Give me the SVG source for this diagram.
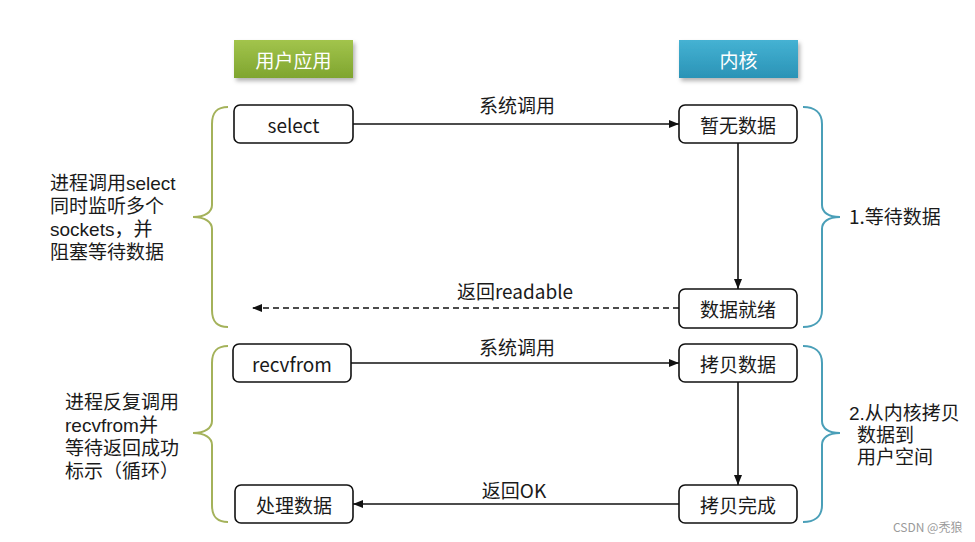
<svg xmlns="http://www.w3.org/2000/svg" width="975" height="542" viewBox="0 0 975 542">
<style>
text{font-family:"Noto Sans CJK SC","Liberation Sans",sans-serif;font-size:19px;fill:#1a1a1a}
.m{font-family:"Liberation Sans","Noto Sans CJK SC",sans-serif}
.c{text-anchor:middle;dominant-baseline:central}
.hd{fill:#ffffff}
.box{fill:#ffffff;stroke:#111;stroke-width:1.6}
.ln{stroke:#111;stroke-width:1.6;fill:none}
.lb{fill:none;stroke:#a4b25a;stroke-width:2}
.rb{fill:none;stroke:#4a9fb8;stroke-width:2}
</style>
<defs>
<linearGradient id="gG" x1="0" y1="0" x2="0" y2="1"><stop offset="0" stop-color="#a2c44c"/><stop offset="1" stop-color="#7fa52f"/></linearGradient>
<linearGradient id="gB" x1="0" y1="0" x2="0" y2="1"><stop offset="0" stop-color="#45b2d3"/><stop offset="1" stop-color="#2a93b6"/></linearGradient>
<filter id="sh" x="-10%" y="-20%" width="130%" height="160%"><feDropShadow dx="2" dy="3" stdDeviation="2" flood-color="#000" flood-opacity="0.3"/></filter>
<marker id="ar" viewBox="0 0 10 10" refX="10" refY="5" markerWidth="10" markerHeight="10" markerUnits="userSpaceOnUse" orient="auto"><path d="M0,1 L10,5 L0,9 Z" fill="#111"/></marker>
</defs>
<rect width="975" height="542" fill="#ffffff"/>

<g id="hdr-user"><rect x="234" y="40" width="119" height="38" fill="url(#gG)" filter="url(#sh)"/><text class="c hd" x="293.5" y="59">用户应用</text></g>
<g id="hdr-kernel"><rect x="679" y="40" width="119" height="38" fill="url(#gB)" filter="url(#sh)"/><text class="c hd" x="738.5" y="59">内核</text></g>

<g id="connectors">
<line class="ln" x1="353" y1="124" x2="679" y2="124" marker-end="url(#ar)"/>
<line class="ln" x1="738" y1="143" x2="738" y2="289" marker-end="url(#ar)"/>
<line class="ln" x1="679" y1="308" x2="252" y2="308" stroke-dasharray="6,4" marker-end="url(#ar)"/>
<line class="ln" x1="351" y1="363" x2="679" y2="363" marker-end="url(#ar)"/>
<line class="ln" x1="738" y1="382" x2="738" y2="485" marker-end="url(#ar)"/>
<line class="ln" x1="679" y1="504" x2="353" y2="504" marker-end="url(#ar)"/>
<text class="c" x="517" y="104">系统调用</text>
<text class="c" x="515" y="290">返回readable</text>
<text class="c" x="517" y="346">系统调用</text>
<text class="c" x="514" y="489">返回OK</text>
</g>

<g id="n-select"><rect class="box" x="234" y="105" width="119" height="38" rx="6"/><text class="c" x="293.5" y="124">select</text></g>
<g id="n-nodata"><rect class="box" x="679" y="105" width="118" height="38" rx="6"/><text class="c" x="738" y="124">暂无数据</text></g>
<g id="n-ready"><rect class="box" x="679" y="289" width="118" height="39" rx="6"/><text class="c" x="738" y="308">数据就绪</text></g>
<g id="n-recvfrom"><rect class="box" x="233" y="344" width="118" height="38" rx="6"/><text class="c" x="292" y="363">recvfrom</text></g>
<g id="n-copy"><rect class="box" x="679" y="344" width="118" height="38" rx="6"/><text class="c" x="738" y="363">拷贝数据</text></g>
<g id="n-process"><rect class="box" x="235" y="485" width="118" height="38" rx="6"/><text class="c" x="294" y="504">处理数据</text></g>
<g id="n-copydone"><rect class="box" x="679" y="485" width="118" height="38" rx="6"/><text class="c" x="738" y="504">拷贝完成</text></g>

<g id="brace-left-1"><path class="lb" d="M228,107 C217,107 212,112 212,124 L212,205 C212,212 205,217 193,217 C205,217 212,222 212,229 L212,310 C212,322 217,327 228,327"/>
<text class="m" x="50" y="190"><tspan x="50" y="190">进程调用select</tspan><tspan x="50" y="213">同时监听多个</tspan><tspan x="50" y="236">sockets，并</tspan><tspan x="50" y="259">阻塞等待数据</tspan></text></g>
<g id="brace-left-2"><path class="lb" d="M228,346 C217,346 212,351 212,363 L212,421 C212,428 205,433 193,433 C205,433 212,438 212,445 L212,505 C212,517 217,522 228,522"/>
<text class="m" x="65" y="409"><tspan x="65" y="409">进程反复调用</tspan><tspan x="65" y="432">recvfrom并</tspan><tspan x="65" y="455">等待返回成功</tspan><tspan x="65" y="478">标示（循环）</tspan></text></g>
<g id="brace-right-1"><path class="rb" d="M803,107 C814,107 822,112 822,124 L822,205 C822,212 828,217 840,217 C828,217 822,222 822,229 L822,310 C822,322 814,327 803,327"/>
<text x="849" y="224">1.等待数据</text></g>
<g id="brace-right-2"><path class="rb" d="M803,346 C814,346 822,351 822,363 L822,421 C822,428 828,433 840,433 C828,433 822,438 822,445 L822,505 C822,517 814,522 803,522"/>
<text class="m" x="849" y="420"><tspan x="849" y="420">2.从内核拷贝</tspan><tspan x="857" y="442">数据到</tspan><tspan x="857" y="464">用户空间</tspan></text></g>
<text x="893" y="532" style="font-size:12px;fill:#9a9a9a">CSDN @秃狼</text>
</svg>
